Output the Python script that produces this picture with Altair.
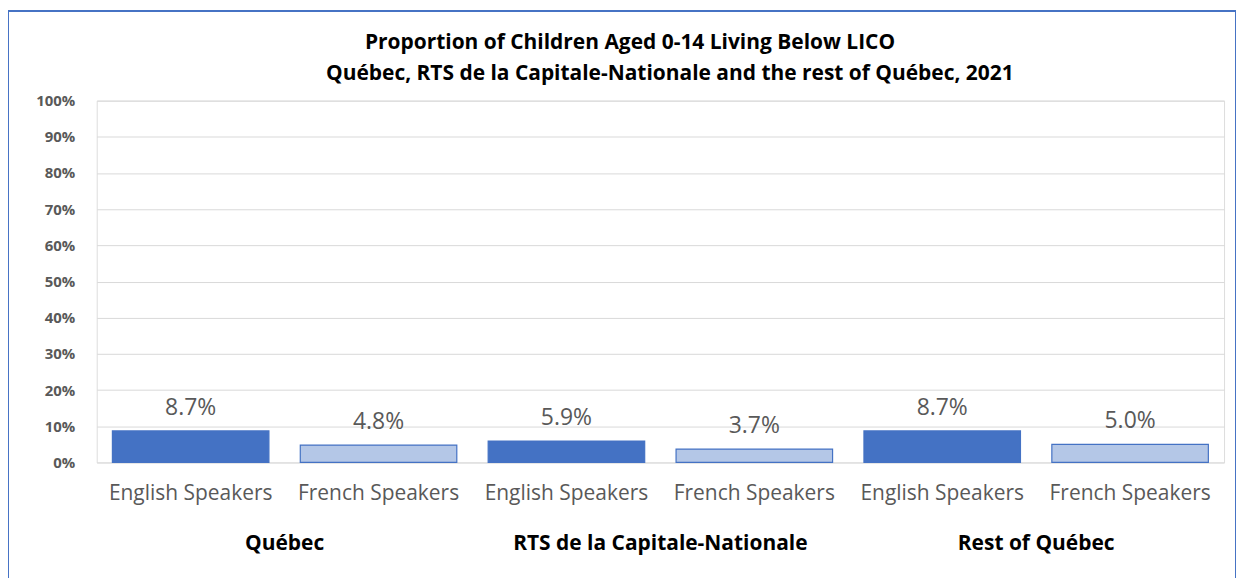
import altair as alt
import pandas as pd

groups = ["Québec", "Québec", "RTS de la Capitale-Nationale", "RTS de la Capitale-Nationale",
          "Rest of Québec", "Rest of Québec"]
speakers = ["English Speakers", "French Speakers", "English Speakers", "French Speakers",
            "English Speakers", "French Speakers"]
values = [0.087, 0.048, 0.059, 0.037, 0.087, 0.050]
group_names = ["Québec", "RTS de la Capitale-Nationale", "Rest of Québec"]
title_lines = ["Proportion of Children Aged 0-14 Living Below LICO",
               "Québec, RTS de la Capitale-Nationale  and the rest of Québec, 2021"]
y_ticks = [0.0, 0.1, 0.2, 0.3, 0.4, 0.5, 0.6, 0.7, 0.8, 0.9, 1.0]

keys = [g + "|" + s for g, s in zip(groups, speakers)]
df = pd.DataFrame({"key": keys, "group": groups, "speaker": speakers, "value": values})
gdf = pd.DataFrame({"key": [keys[0], keys[2], keys[4]], "group": group_names})
tdf = pd.DataFrame({"line": title_lines, "i": [0, 1]})

FONT = "Open Sans"
W, H = 1131, 363
step = W / 6

xscale = alt.Scale(domain=keys, paddingInner=0.167, paddingOuter=0.0835)
xenc = alt.X("key:N", scale=xscale, sort=keys,
             axis=alt.Axis(title=None, labelExpr="split(datum.label, '|')[1]", labelAngle=0,
                           ticks=False, domain=False, labelPadding=20, labelFontSize=21,
                           labelColor="#595959", labelFont=FONT, labelOverlap=False))
yenc = alt.Y("value:Q", scale=alt.Scale(domain=[0, 1]),
             axis=alt.Axis(title=None, format=".0%", values=y_ticks, labelOverlap=False,
                           ticks=False, domain=False, labelPadding=22, labelFontSize=15,
                           labelColor="#595959", labelFont=FONT, gridColor="#d9d9d9",
                           labelFontWeight="bold"))

bars = alt.Chart(df).mark_bar(strokeWidth=1.2, stroke="#4472C4").encode(
    x=xenc, y=yenc,
    color=alt.Color("speaker:N", scale=alt.Scale(domain=["English Speakers", "French Speakers"],
                                                   range=["#4472C4", "#B4C7E7"]), legend=None),
)
labels = alt.Chart(df).mark_text(baseline="middle", dy=-23, fontSize=23, color="#595959", font=FONT).encode(
    x=xenc, y=yenc, text=alt.Text("value:Q", format=".1%"))
glabels = alt.Chart(gdf).mark_text(baseline="middle", dx=step / 2, fontSize=21, fontWeight="bold",
                                   color="#000000", font=FONT).encode(
    x=xenc, y=alt.value(H + 82), text="group:N")

def title_line(i, xpos, ypos):
    return alt.Chart(tdf).transform_filter(alt.datum.i == i).mark_text(
        baseline="middle", align="center", fontSize=21, fontWeight="bold", color="#000000", font=FONT
    ).encode(text="line:N", x=alt.value(xpos), y=alt.value(ypos))

t1 = title_line(0, 535, -58)
t2 = title_line(1, 575, -27)
border = alt.Chart(gdf).mark_rect(fill=None, stroke="#4472C4", strokeWidth=1.5).encode(
    x=alt.value(-89), x2=alt.value(1143), y=alt.value(-90), y2=alt.value(H + 130))

chart = alt.layer(border, bars, labels, glabels, t1, t2).properties(
    width=W, height=H,
    autosize=alt.AutoSizeParams(type="none"),
    padding={"left": 89, "top": 92, "right": 12, "bottom": 115},
).configure_view(stroke="#d9d9d9").configure(background="white")

chart.save("out.html", embed_options={"renderer": "svg", "actions": False})
